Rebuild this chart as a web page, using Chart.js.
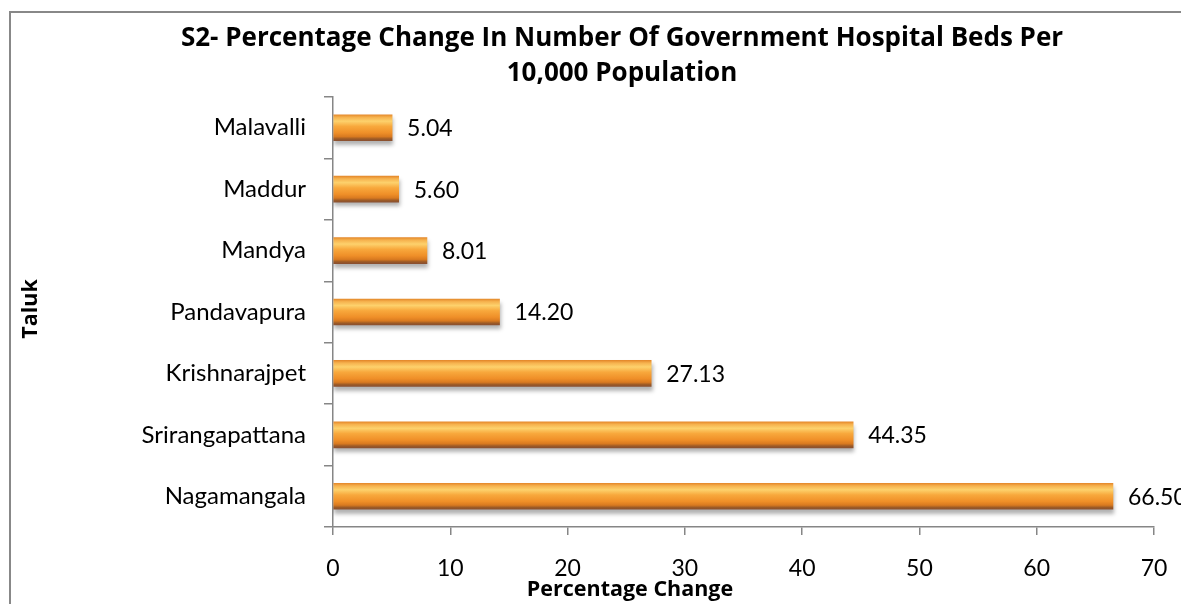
<!DOCTYPE html>
<html>
<head>
<meta charset="utf-8">
<title>S2- Percentage Change In Number Of Government Hospital Beds</title>
<script src="https://cdn.jsdelivr.net/npm/chart.js@4.4.1/dist/chart.umd.min.js"></script>
<style>
	html, body { margin: 0; padding: 0; background: #fff; overflow: hidden; }
	#frame { position: absolute; left: 9px; top: 11px; width: 1240px; height: 640px; border: 2px solid #888; box-sizing: border-box; }
	#chart { position: absolute; left: 0; top: 0; }
</style>
</head>
<body>
<div id="frame"></div>
<canvas id="chart" width="1181" height="604"></canvas>
<script>
	const taluks = ['Malavalli', 'Maddur', 'Mandya', 'Pandavapura', 'Krishnarajpet', 'Srirangapattana', 'Nagamangala'];
	const pctChange = [5.04, 5.60, 8.01, 14.20, 27.13, 44.35, 66.50];
	const titleLines = ['S2- Percentage Change In Number Of Government Hospital Beds Per', '10,000 Population'];
	const yTitle = 'Taluk';
	const xTitle = 'Percentage Change';

	const FONT = 'Lato, "Open Sans", sans-serif';
	const BOLD_FONT = '"Open Sans", Lato, sans-serif';
	const AXIS = '#868686';

	function barFill(ctx) {
		const chart = ctx.chart;
		const y = chart.scales && chart.scales.y;
		if (!chart.chartArea || !y) return '#f09a32';
		const yc = y.getPixelForValue(ctx.dataIndex);
		const g = chart.ctx.createLinearGradient(0, yc - 13, 0, yc + 13);
		g.addColorStop(0, '#e58a2c');
		g.addColorStop(0.1, '#f6b24e');
		g.addColorStop(0.25, '#fdd16c');
		g.addColorStop(0.45, '#f8a83c');
		g.addColorStop(0.7, '#ef8f28');
		g.addColorStop(0.84, '#d97a20');
		g.addColorStop(0.93, '#9c5a26');
		g.addColorStop(1, '#8a5030');
		return g;
	}

	const shadowPlugin = {
		id: 'barShadow',
		beforeDatasetDraw(chart) {
			const c = chart.ctx;
			c.save();
			c.shadowColor = 'rgba(0,0,0,0.3)';
			c.shadowBlur = 4;
			c.shadowOffsetX = 1;
			c.shadowOffsetY = 4;
		},
		afterDatasetDraw(chart) {
			chart.ctx.restore();
		}
	};

	const labelPlugin = {
		id: 'valueLabels',
		afterDatasetsDraw(chart) {
			const c = chart.ctx;
			const meta = chart.getDatasetMeta(0);
			c.save();
			c.font = '23px ' + FONT;
			c.fillStyle = '#000';
			c.textAlign = 'left';
			c.textBaseline = 'middle';
			meta.data.forEach((bar, i) => {
				c.fillText(pctChange[i].toFixed(2), bar.x + 15, bar.y + 1);
			});
			c.restore();
		}
	};

	const titlesPlugin = {
		id: 'titles',
		afterDraw(chart) {
			const c = chart.ctx;
			c.save();
			c.fillStyle = '#000';
			c.textAlign = 'center';
			c.textBaseline = 'middle';
			c.font = 'bold 26px ' + BOLD_FONT;
			c.fillText(titleLines[0], 622, 39);
			c.fillText(titleLines[1], 622, 74);
			c.font = 'bold 21.5px ' + BOLD_FONT;
			c.fillText(xTitle, 630, 590);
			c.translate(31, 309);
			c.rotate(-Math.PI / 2);
			c.fillText(yTitle, 0, 0);
			c.restore();
		}
	};

	new Chart(document.getElementById('chart'), {
		type: 'bar',
		data: {
			labels: taluks,
			datasets: [{
				data: pctChange,
				backgroundColor: barFill,
				borderWidth: 0,
				barThickness: 26
			}]
		},
		options: {
			indexAxis: 'y',
			responsive: false,
			animation: false,
			events: [],
			layout: { padding: { left: 0, right: 27, top: 97, bottom: 0 } },
			plugins: {
				legend: { display: false },
				title: { display: false },
				tooltip: { enabled: false }
			},
			scales: {
				x: {
					min: 0,
					max: 70,
					ticks: { stepSize: 10, color: '#000', font: { family: FONT, size: 23 }, padding: 20 },
					grid: { drawOnChartArea: false, color: AXIS, tickLength: 8, lineWidth: 1.5 },
					border: { color: AXIS, width: 1.5 },
					afterFit(scale) {
						scale.height = 77;
						scale.paddingLeft = 0;
						scale.paddingRight = 0;
					}
				},
				y: {
					ticks: { color: '#000', font: { family: FONT, size: 24 }, padding: 18 },
					grid: { drawOnChartArea: false, offset: true, color: AXIS, tickLength: 9, lineWidth: 1.5 },
					border: { color: AXIS, width: 1.5 },
					afterFit(scale) { scale.width = 333; }
				}
			}
		},
		plugins: [shadowPlugin, labelPlugin, titlesPlugin]
	});
</script>
</body>
</html>
